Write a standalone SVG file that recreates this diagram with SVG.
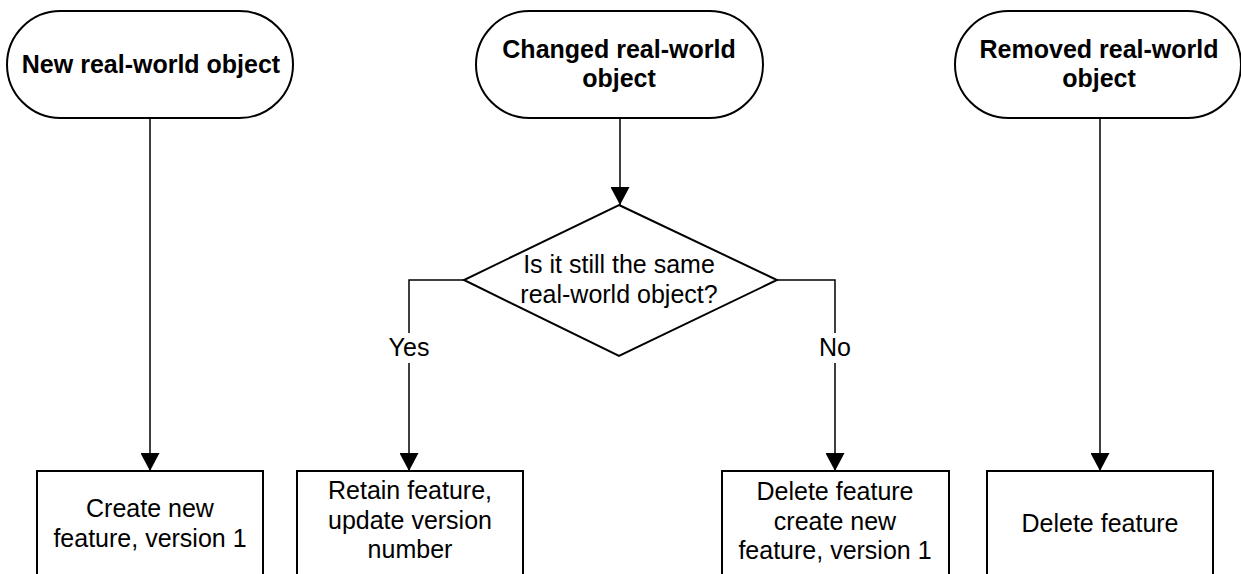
<svg xmlns="http://www.w3.org/2000/svg" width="1241" height="574" viewBox="0 0 1241 574">
<style>
.shape{fill:#fff;stroke:#000;stroke-width:2}
.conn{fill:none;stroke:#000;stroke-width:1.5}
.t{font-family:"Liberation Sans",Arial,sans-serif;font-size:25px;fill:#000;text-anchor:middle}
.b{font-weight:bold}
.lbl{fill:#fff;stroke:none}
</style>
<defs>
<marker id="arr" markerUnits="userSpaceOnUse" markerWidth="18" markerHeight="19" viewBox="0 0 18 19" refX="18" refY="9.5" orient="auto">
<path d="M0,0 L18,9.5 L0,19 z" fill="#000"/>
</marker>
</defs>
<rect width="1241" height="574" fill="#fff"/>
<g id="connectors">
<line class="conn" x1="150" y1="119" x2="150" y2="471" marker-end="url(#arr)"/>
<line class="conn" x1="620" y1="119" x2="620" y2="205" marker-end="url(#arr)"/>
<line class="conn" x1="1100" y1="119" x2="1100" y2="471" marker-end="url(#arr)"/>
<path class="conn" d="M464,280 H409 V471" marker-end="url(#arr)"/>
<path class="conn" d="M777,280 H835 V471" marker-end="url(#arr)"/>
<rect class="lbl" x="385" y="333" width="48" height="30"/>
<text class="t" x="409" y="356">Yes</text>
<rect class="lbl" x="817" y="333" width="36" height="30"/>
<text class="t" x="835" y="356">No</text>
</g>
<g id="start-new">
<rect class="shape" x="7" y="11" width="286" height="107" rx="53.5" ry="53.5"/>
<text class="t b" x="151" y="73">New real-world object</text>
</g>
<g id="start-changed">
<rect class="shape" x="476" y="11" width="287" height="107" rx="53.5" ry="53.5"/>
<text class="t b" x="619" y="58">Changed real-world</text>
<text class="t b" x="619" y="87">object</text>
</g>
<g id="start-removed">
<rect class="shape" x="955" y="11" width="286" height="107" rx="53.5" ry="53.5"/>
<text class="t b" x="1099" y="58">Removed real-world</text>
<text class="t b" x="1099" y="87">object</text>
</g>
<g id="decision">
<polygon class="shape" points="619,205 777,280 619,356 464,280"/>
<text class="t" x="619" y="273">Is it still the same</text>
<text class="t" x="619" y="303">real-world object?</text>
</g>
<g id="create-new">
<rect class="shape" x="37" y="471" width="226" height="130"/>
<text class="t" x="150" y="517">Create new</text>
<text class="t" x="150" y="547">feature, version 1</text>
</g>
<g id="retain">
<rect class="shape" x="297" y="471" width="226" height="130"/>
<text class="t" x="410" y="499">Retain feature,</text>
<text class="t" x="410" y="529">update version</text>
<text class="t" x="410" y="558">number</text>
</g>
<g id="delete-create">
<rect class="shape" x="722" y="471" width="227" height="130"/>
<text class="t" x="835" y="500">Delete feature</text>
<text class="t" x="835" y="530">create new</text>
<text class="t" x="835" y="559">feature, version 1</text>
</g>
<g id="delete">
<rect class="shape" x="987" y="471" width="226" height="130"/>
<text class="t" x="1100" y="532">Delete feature</text>
</g>
</svg>
